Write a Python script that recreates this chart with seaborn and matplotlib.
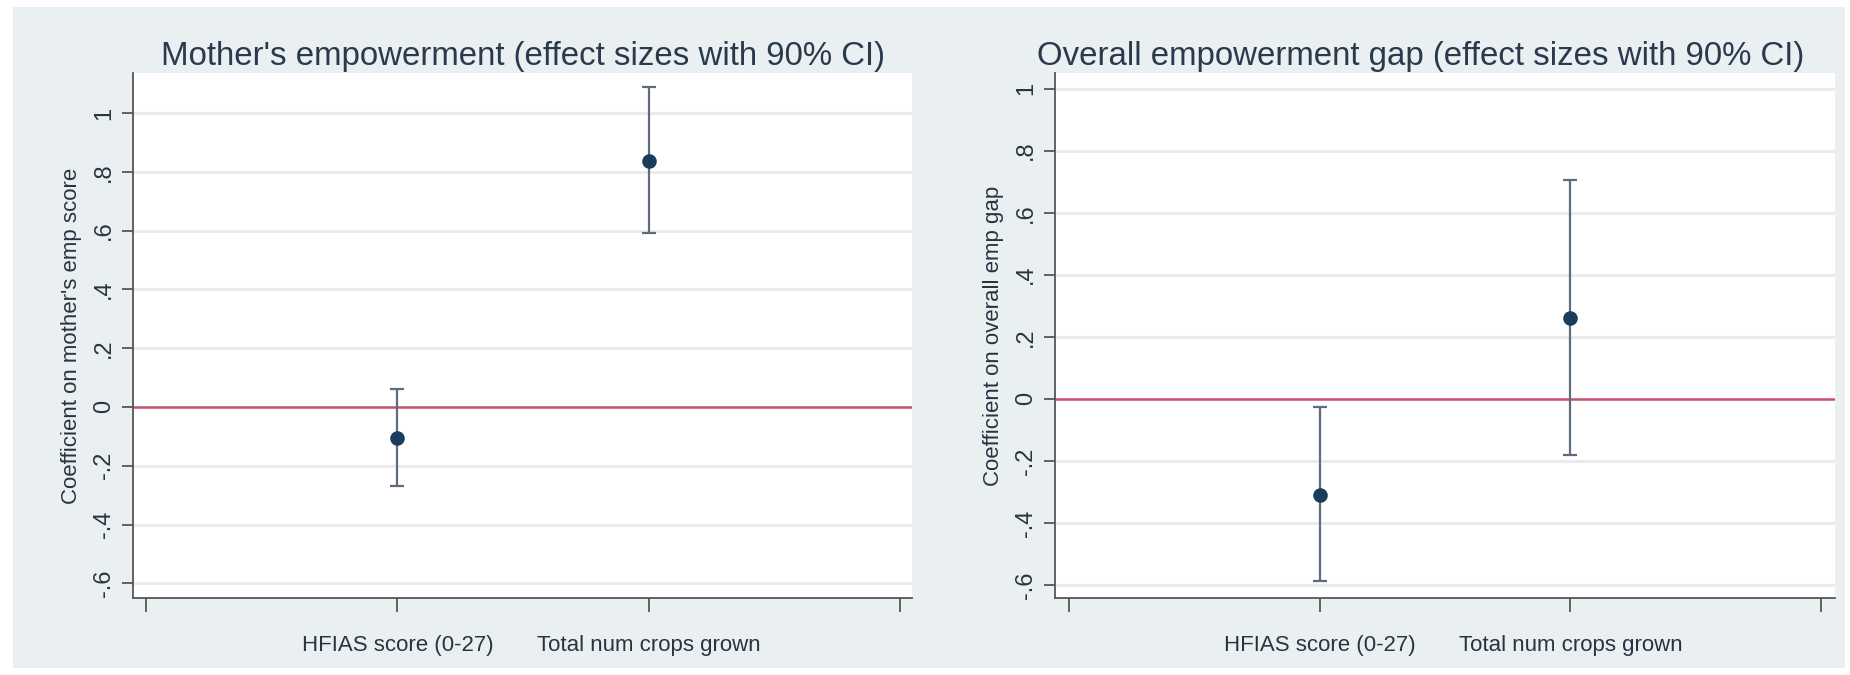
import matplotlib
matplotlib.use("Agg")
import matplotlib.pyplot as plt
import seaborn as sns
import pandas as pd
from matplotlib.patches import Rectangle

sns.set_theme(style="white")
plt.rcParams['font.family'] = ['Liberation Sans', 'DejaVu Sans']

# ---- data ----
categories = ["HFIAS score (0-27)", "Total num crops grown"]
cat_pos = [1, 2]

mother_coef = [-0.104, 0.837]
mother_lo = [-0.268, 0.593]
mother_hi = [0.061, 1.087]

gap_coef = [-0.31, 0.26]
gap_lo = [-0.586, -0.18]
gap_hi = [-0.028, 0.705]

ytick_vals = [-0.6, -0.4, -0.2, 0, 0.2, 0.4, 0.6, 0.8, 1]
ytick_labels = ["-.6", "-.4", "-.2", "0", ".2", ".4", ".6", ".8", "1"]
xtick_vals = [0, 1, 2, 3]
xtick_labels = ["", "HFIAS score (0-27)", "Total num crops grown", ""]

titles = ["Mother's empowerment (effect sizes with 90% CI)",
          "Overall empowerment gap (effect sizes with 90% CI)"]
ylabels = ["Coefficient on mother's emp score", "Coefficient on overall emp gap"]

W, H = 1850, 675
fig = plt.figure(figsize=(W / 100, H / 100), dpi=100, facecolor="white")
bg = Rectangle((13 / W, 7 / H), (1845 - 13) / W, (668 - 7) / H,
               transform=fig.transFigure, facecolor="#eaf0f2", edgecolor="none", zorder=-10)
fig.patches.append(bg)

panels = [
    dict(x0=133, x1=912, coef=mother_coef, lo=mother_lo, hi=mother_hi,
         ylim=(-0.65, 1.136), xlim=(-0.052, 3.048), title_x=523),
    dict(x0=1055, x1=1835, coef=gap_coef, lo=gap_lo, hi=gap_hi,
         ylim=(-0.642, 1.05), xlim=(-0.056, 3.056), title_x=1421),
]
top, bottom = 73, 598

navy = "#1a3d5e"
bar_col = "#5f6d7a"
red = "#c8506a"
text_col = "#2a3340"

for i, p in enumerate(panels):
    ax = fig.add_axes([p["x0"] / W, 1 - bottom / H, (p["x1"] - p["x0"]) / W, (bottom - top) / H])
    ax.set_facecolor("white")
    df = pd.DataFrame({"pos": cat_pos, "coef": p["coef"], "lo": p["lo"], "hi": p["hi"],
                       "label": categories})
    for y in ytick_vals:
        if y != 0:
            ax.axhline(y, color="#ebebeb", lw=2.2, zorder=0)
    ax.axhline(0, color=red, lw=1.8, zorder=1)
    ax.errorbar(df["pos"], df["coef"],
                yerr=[df["coef"] - df["lo"], df["hi"] - df["coef"]],
                fmt="none", ecolor=bar_col, elinewidth=1.6, capsize=5, capthick=1.6, zorder=2)
    sns.scatterplot(data=df, x="pos", y="coef", ax=ax, color=navy, s=110,
                    edgecolor=navy, linewidth=0, zorder=3, legend=False)
    ax.set_xlim(*p["xlim"])
    ax.set_ylim(*p["ylim"])
    ax.set_xticks(xtick_vals)
    ax.set_xticklabels(xtick_labels, fontsize=16, color=text_col)
    ax.set_yticks(ytick_vals)
    ax.set_yticklabels(ytick_labels, fontsize=17, color=text_col, rotation=90, va="center")
    ax.tick_params(axis="x", length=10, width=1.3, color="#555555", pad=17, direction="out", bottom=True)
    ax.tick_params(axis="y", length=8, width=1.3, color="#555555", pad=5, direction="out", left=True)
    for s in ["top", "right"]:
        ax.spines[s].set_visible(False)
    for s in ["left", "bottom"]:
        ax.spines[s].set_color("#555555")
        ax.spines[s].set_linewidth(1.3)
    ax.set_xlabel("")
    ax.set_ylabel(ylabels[i], fontsize=16, color=text_col, labelpad=8)
    fig.text(p["title_x"] / W, 1 - 56 / H, titles[i], fontsize=23.8, color="#2a3a4c",
             ha="center", va="center")

fig.savefig("out.png", dpi=100, facecolor="white")
